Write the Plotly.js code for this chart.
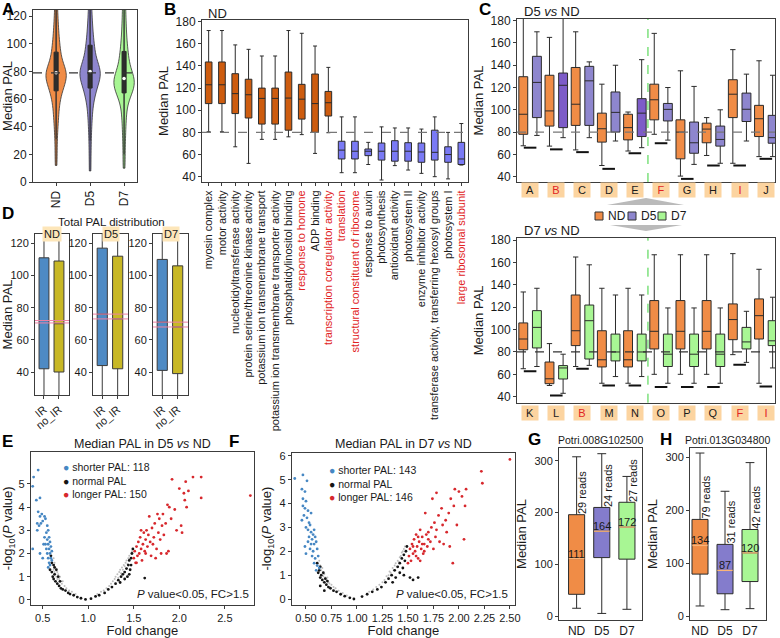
<!DOCTYPE html>
<html>
<head>
<meta charset="utf-8">
<script src="https://cdn.plot.ly/plotly-3.0.1.min.js"></script>
<style>
  body { margin: 0; background: #fff; }
  #fig { width: 780px; height: 638px; }
</style>
</head>
<body>
<div id="fig"></div>
<script>
// ---- A: violin samples ----
const violinGroups = ['ND', 'D5', 'D7']
const violinND = [12, 22, 31, 38, 43, 47, 51, 54, 57, 60, 62, 64, 66, 67, 68, 70, 71, 72, 73, 74, 75, 76, 77, 77, 78, 78, 79, 79, 80, 81, 82, 83, 84, 86, 88, 90, 92, 94, 96, 98, 101, 104, 107, 111, 115, 120, 126, 133, 142, 155]
const violinD5 = [8, 20, 30, 38, 44, 49, 53, 57, 60, 62, 64, 66, 68, 69, 70, 72, 73, 74, 75, 76, 77, 78, 79, 79, 80, 80, 81, 82, 83, 84, 85, 87, 89, 91, 93, 95, 97, 99, 102, 105, 108, 112, 116, 121, 127, 134, 142, 150, 160, 175]
const violinD7 = [10, 20, 29, 36, 42, 47, 51, 55, 58, 61, 63, 64, 65, 66, 67, 68, 69, 70, 71, 72, 72, 73, 74, 75, 75, 76, 77, 78, 79, 81, 83, 85, 87, 89, 91, 93, 96, 99, 102, 106, 110, 115, 120, 126, 133, 140, 150, 160]
const violinMedians = [79, 80, 75]
const violinMins = [12, 8, 10]

// ---- B: GO terms, box stats [low, q1, median, q3, high] ----
const goTerms = ['myosin complex', 'motor activity', 'nucleotidyltransferase activity', 'protein serine/threonine kinase activity', 'potassium ion transmembrane transport', 'potassium ion transmembrane transporter activity', 'phosphatidylinositol binding', 'response to homone', 'ADP binding', 'transcription coregulator activity', 'translation', 'structural constituent of ribosome', 'response to auxin', 'photosynthesis', 'antioxidant activity', 'photosystem II', 'enzyme inhibitor activity', 'transferase activity, transferring hexosyl groups', 'photosystem I', 'large ribosomal subunit']
const goRedTerms = ['response to homone', 'transcription coregulator activity', 'translation', 'structural constituent of ribosome', 'large ribosomal subunit']
const goLong = [
  [80.6, 106, 123, 143.6, 172], [80.6, 106, 123, 143.6, 172], [67, 97, 115, 133, 159],
  [52, 93, 114, 128, 155], [73.7, 87.5, 110.7, 120, 149], [73.7, 87.5, 110.7, 120, 149],
  [76, 82, 111, 134.5, 172], [78, 92, 110, 123.4, 169.5], [61, 80, 106, 132.7, 158],
  [79.7, 94.8, 106.8, 117, 138.7]
]
const goShort = [
  [43.6, 56, 64, 72, 94], [43.6, 56, 63, 72, 94], [51, 59, 63, 65, 71], [37, 55, 63, 70.4, 85],
  [50, 54, 63, 72.5, 84], [46, 54, 63, 70.7, 84], [43, 53, 62.3, 70.4, 83], [40, 55, 62, 82, 94],
  [38, 53, 60, 67, 80], [50.5, 51, 56, 71, 88]
]

// ---- C: D5 vs ND (top) and D7 vs ND (bottom) ----
const cTopGroups = ['A', 'B', 'C', 'D', 'E', 'F', 'G', 'H', 'I', 'J']
const cTopRed = ['B', 'F', 'I']
const cTopDarkD5 = ['B', 'E']
const cTopND = [
  [67.7, 78, 96, 129.7, 185], [67.4, 85.4, 99, 131, 165], [64, 86, 105, 138, 170], [50, 71, 83, 97, 123],
  [63, 73, 84, 96, 98], [78, 91, 109, 123, 168.6], [40.5, 56, 80, 91, 135], [59, 70.4, 82.7, 88, 93],
  [52, 93, 114, 127, 154], [58, 76, 92, 104, 144]
]
const cTopD5 = [
  [77, 93, 124.6, 148, 170], [75, 84, 122, 133, 185], [75, 86, 126, 139, 143], [72, 80, 97.7, 116, 140],
  [66, 76, 97, 110, 145], [72.8, 90, 100.4, 105.7, 120], [51, 61, 70.4, 89, 121], [52, 67.4, 73.4, 85.4, 100],
  [72, 89.5, 100.5, 115, 132], [58, 70, 75, 95, 131]
]
const cTopBar = [66, 64.5, 62, 47, 61, 70, 38, 50, 50, 56]

const cBotGroups = ['K', 'L', 'B', 'M', 'N', 'O', 'P', 'Q', 'F', 'I']
const cBotRed = ['B', 'F', 'I']
const cBotND = [
  [65, 82, 91.6, 106, 133.7], [50, 51.6, 56, 71, 87.5], [67, 85.7, 99, 131, 165], [52, 66.6, 73, 99, 137],
  [52, 66.6, 73, 99, 137], [60, 82.7, 98.5, 126, 167], [60, 82.7, 98.5, 126, 167], [60, 82.7, 98.5, 126, 167],
  [77.6, 91, 109, 123, 168], [52, 91.6, 112.5, 127.5, 154]
]
const cBotD7 = [
  [67, 83.6, 102, 117, 137], [43, 55.8, 65.7, 67.8, 78], [68, 73.7, 108, 122, 158], [58, 72, 80, 96, 131],
  [58, 72, 80, 96, 131], [52, 67, 78, 96, 119.4], [52, 67, 78, 96, 119.4], [52, 67, 78, 96, 119.4],
  [70.7, 82.7, 89, 102, 116.4], [65.7, 85.7, 90, 108, 129]
]
const cBotBar = [62.7, 41, 65, 50, 50, 48.7, 48.7, 48.7, 68.6, 49]

// ---- D: total PAL, IR vs no_IR ----
const dConds = ['ND', 'D5', 'D7']
const dIR = [[15, 42, 72, 111, 140], [15, 44, 76, 117, 140], [15, 41, 71, 110, 140]]
const dNoIR = [[15, 40, 70, 109, 140], [15, 42, 73, 112, 140], [15, 39, 68, 106, 140]]
const dPink = [[70.5, 72], [73, 76], [68, 71]]

// ---- E: D5 vs ND volcano [fold change, -log10 P] ----
const eBlue = [[0.40, 5.3], [0.45, 5.6], [0.39, 4.9], [0.43, 4.3], [0.47, 4.4], [0.45, 3.8], [0.47, 3.6], [0.49, 3.7], [0.52, 3.6], [0.50, 3.4], [0.44, 3.3], [0.46, 3.2], [0.48, 3.3], [0.53, 3.5], [0.55, 3.2], [0.56, 3.0], [0.54, 2.9], [0.44, 3.0], [0.52, 2.7], [0.55, 2.6], [0.57, 2.7], [0.53, 2.4], [0.56, 2.4], [0.58, 2.5], [0.54, 2.2], [0.57, 2.2], [0.59, 2.3], [0.55, 2.0], [0.58, 2.0], [0.60, 2.1], [0.56, 1.8], [0.59, 1.8], [0.57, 1.6], [0.60, 1.7], [0.58, 1.5], [0.47, 2.0], [0.50, 1.8], [0.39, 2.2], [0.51, 2.4], [0.56, 1.4]]
const eBlack = [[0.58, 1.3], [0.60, 1.2], [0.61, 1.0], [0.62, 0.9], [0.63, 1.1], [0.64, 0.8], [0.66, 0.7], [0.68, 0.6], [0.70, 0.5], [0.72, 0.45], [0.75, 0.4], [0.78, 0.3], [0.80, 0.25], [0.84, 0.2], [0.88, 0.12], [0.92, 0.07], [0.97, 0.02], [0.62, 1.5], [0.60, 1.6], [0.59, 1.9], [0.65, 1.3], [0.63, 1.4], [0.67, 1.0], [0.69, 0.8], [1.03, 0.05], [1.08, 0.15], [1.12, 0.2], [1.18, 0.3], [1.22, 0.45], [1.26, 0.55], [1.30, 0.7], [1.33, 0.85], [1.36, 1.0], [1.38, 1.1], [1.40, 1.2], [1.42, 1.35], [1.44, 1.5], [1.45, 1.7], [1.47, 1.8], [1.48, 2.0], [1.49, 2.2], [1.40, 0.9], [1.43, 1.0], [1.46, 1.3], [1.35, 0.75], [1.47, 1.5], [1.45, 1.1], [1.62, 0.94]]
const eGray = [[0.60, 1.7], [0.61, 1.5], [0.62, 1.3], [0.62, 1.8], [0.63, 1.2], [0.63, 1.6], [0.64, 1.1], [0.64, 1.4], [0.65, 1.0], [0.66, 1.2], [0.66, 0.9], [0.67, 1.1], [0.68, 0.9], [0.69, 1.0], [0.70, 0.8], [0.71, 0.7], [0.72, 0.8], [0.74, 0.6], [0.76, 0.5], [0.79, 0.4], [0.82, 0.35], [0.86, 0.25], [1.10, 0.25], [1.14, 0.35], [1.17, 0.4], [1.20, 0.5], [1.23, 0.6], [1.25, 0.7], [1.27, 0.8], [1.29, 0.9], [1.30, 1.0], [1.32, 1.1], [1.33, 0.95], [1.34, 1.2], [1.35, 1.3], [1.36, 1.15], [1.37, 1.4], [1.38, 1.3], [1.39, 1.5], [1.40, 1.45], [1.41, 1.6], [1.42, 1.7], [1.43, 1.55], [1.44, 1.8], [1.45, 1.9], [1.46, 1.75], [1.47, 2.0], [1.48, 2.1]]
const eRed = [[1.50, 1.8], [1.51, 2.1], [1.52, 1.6], [1.53, 2.3], [1.54, 1.9], [1.55, 2.5], [1.56, 2.0], [1.57, 2.7], [1.58, 2.2], [1.59, 1.7], [1.60, 2.4], [1.61, 2.9], [1.62, 2.1], [1.63, 2.6], [1.64, 3.0], [1.65, 2.3], [1.66, 2.8], [1.67, 3.6], [1.68, 2.5], [1.69, 1.9], [1.70, 3.1], [1.71, 2.4], [1.72, 2.7], [1.73, 3.3], [1.75, 2.2], [1.76, 3.7], [1.77, 2.9], [1.78, 3.5], [1.79, 2.6], [1.80, 2.0], [1.81, 3.2], [1.82, 3.7], [1.83, 2.8], [1.85, 3.3], [1.87, 4.1], [1.88, 2.1], [1.89, 4.0], [1.91, 3.5], [1.92, 5.2], [1.95, 3.9], [1.97, 3.0], [2.00, 4.8], [2.02, 3.2], [2.03, 2.9], [2.05, 4.6], [2.07, 5.1], [2.08, 4.0], [2.10, 4.7], [2.15, 5.3], [2.24, 5.3], [2.24, 4.4], [2.78, 4.5], [1.74, 1.8], [1.86, 2.0], [2.06, 4.3], [1.58, 3.0], [1.63, 2.0], [1.53, 1.6]]

// ---- F: D7 vs ND volcano ----
const fBlue = [[0.39, 5.05], [0.47, 5.2], [0.51, 4.95], [0.46, 4.6], [0.49, 4.5], [0.47, 4.2], [0.50, 4.1], [0.47, 3.9], [0.49, 3.8], [0.52, 3.7], [0.48, 3.5], [0.51, 3.4], [0.53, 3.2], [0.46, 3.3], [0.50, 3.0], [0.54, 3.1], [0.52, 2.9], [0.55, 2.8], [0.57, 2.7], [0.53, 2.6], [0.56, 2.5], [0.59, 2.6], [0.55, 2.3], [0.58, 2.3], [0.60, 2.4], [0.54, 2.1], [0.57, 2.0], [0.61, 2.1], [0.56, 1.8], [0.59, 1.7], [0.62, 1.8], [0.58, 1.5], [0.61, 1.4], [0.60, 1.2], [0.63, 1.3], [0.49, 2.2], [0.52, 2.4], [0.50, 1.9], [0.55, 3.6], [0.58, 2.9]]
const fBlack = [[0.62, 1.1], [0.64, 0.9], [0.65, 1.0], [0.66, 0.8], [0.68, 0.7], [0.70, 0.6], [0.72, 0.5], [0.74, 0.45], [0.77, 0.35], [0.80, 0.3], [0.84, 0.2], [0.88, 0.12], [0.93, 0.05], [0.97, 0.0], [0.63, 1.2], [0.61, 1.5], [0.64, 1.35], [0.67, 1.1], [0.69, 0.85], [0.71, 0.75], [0.64, 0.55], [0.68, 0.35], [1.05, 0.1], [1.10, 0.2], [1.15, 0.3], [1.20, 0.4], [1.24, 0.5], [1.28, 0.7], [1.31, 0.85], [1.34, 1.0], [1.37, 1.2], [1.40, 1.35], [1.42, 1.5], [1.44, 1.7], [1.46, 1.85], [1.48, 2.0], [1.49, 2.2], [1.38, 0.9], [1.42, 1.1], [1.45, 1.3], [1.47, 1.6], [1.52, 0.9], [1.55, 0.8], [1.60, 0.9], [1.35, 0.7], [1.46, 1.0]]
const fGray = [[0.63, 1.6], [0.64, 1.4], [0.65, 1.2], [0.66, 1.3], [0.67, 0.95], [0.68, 1.05], [0.69, 0.9], [0.70, 0.8], [0.71, 0.9], [0.72, 0.7], [0.73, 0.65], [0.75, 0.6], [0.77, 0.5], [0.79, 0.45], [0.82, 0.35], [0.86, 0.25], [0.90, 0.15], [1.12, 0.3], [1.16, 0.4], [1.19, 0.5], [1.22, 0.6], [1.25, 0.7], [1.27, 0.8], [1.29, 0.95], [1.31, 1.0], [1.32, 1.15], [1.33, 1.1], [1.35, 1.3], [1.36, 1.2], [1.37, 1.4], [1.38, 1.5], [1.39, 1.35], [1.40, 1.6], [1.41, 1.55], [1.42, 1.75], [1.43, 1.8], [1.44, 1.95], [1.45, 2.0], [1.46, 2.1], [1.47, 2.2]]
const fRed = [[1.50, 1.5], [1.51, 1.8], [1.52, 2.1], [1.53, 1.6], [1.54, 2.3], [1.55, 1.9], [1.56, 2.5], [1.57, 2.0], [1.58, 2.7], [1.59, 2.2], [1.60, 1.7], [1.61, 2.4], [1.62, 2.9], [1.63, 2.1], [1.64, 2.6], [1.65, 1.9], [1.66, 2.3], [1.67, 3.6], [1.68, 2.7], [1.69, 2.2], [1.70, 2.8], [1.72, 2.4], [1.73, 3.0], [1.75, 2.1], [1.76, 3.2], [1.77, 2.6], [1.78, 2.9], [1.80, 3.5], [1.81, 2.4], [1.83, 3.8], [1.84, 3.1], [1.85, 2.3], [1.87, 3.3], [1.88, 2.8], [1.90, 3.6], [1.91, 2.2], [1.92, 4.2], [1.94, 1.5], [1.95, 3.9], [1.96, 4.6], [1.98, 3.1], [2.00, 4.5], [2.03, 4.3], [2.05, 2.5], [2.07, 4.6], [2.22, 5.35], [2.23, 4.85], [2.50, 5.85], [2.06, 3.9], [1.74, 4.2], [1.78, 4.45], [1.55, 2.2], [1.58, 1.8], [1.62, 1.6], [1.66, 2.0], [1.70, 2.5], [1.60, 2.6], [1.64, 2.3]]

// ---- G / H: single genes ----
const geneConds = ['ND', 'D5', 'D7']
const gStats = [[15, 42, 111, 196, 308], [5, 113, 164, 210, 314], [13, 110, 172, 220, 270]]
const gReads = [29, 24, 27]
const hStats = [[20, 80, 134, 183, 308], [13, 43, 87, 136, 236], [15, 66, 120, 164, 290]]
const hReads = [79, 31, 42]

// ---------------------------------------------------------------
const W = 780, H = 638
const px = x => x / W
const py = y => 1 - y / H
const domX = (a, b) => [a / W, b / W]
const domY = (top, bottom) => [1 - bottom / H, 1 - top / H]
const ax = n => (n === 1 ? '' : String(n))

const ORANGE = 'rgb(240,140,70)'
const PURPLE = 'rgb(142,134,206)'
const PURPLE_DK = 'rgb(125,92,200)'
const GREEN = 'rgb(168,246,148)'
const B_ORANGE = 'rgb(205,92,15)'
const B_BLUE = 'rgb(122,122,245)'
const RED_TXT = 'rgb(225,35,35)'

const boxes = (rows, xs, fill, n, opts) => Object.assign({
  type: 'box',
  x: xs,
  lowerfence: rows.map(r => r[0]),
  q1: rows.map(r => r[1]),
  median: rows.map(r => r[2]),
  q3: rows.map(r => r[3]),
  upperfence: rows.map(r => r[4]),
  fillcolor: fill,
  line: { color: '#2b2b2b', width: 1 },
  whiskerwidth: 0.6,
  boxpoints: false,
  xaxis: 'x' + ax(n),
  yaxis: 'y' + ax(n),
  showlegend: false,
  hoverinfo: 'skip'
}, opts || {})

const segments = (centers, values, half) => {
  const x = [], y = []
  centers.forEach((c, i) => { x.push(c - half, c + half, null); y.push(values[i], values[i], null) })
  return { x, y }
}

const dots = (pts, color, size, n) => ({
  type: 'scatter', mode: 'markers',
  x: pts.map(p => p[0]), y: pts.map(p => p[1]),
  marker: { color, size },
  xaxis: 'x' + ax(n), yaxis: 'y' + ax(n),
  showlegend: false, hoverinfo: 'skip'
})

const traces = []

// A — violins
const violinSets = [violinND, violinD5, violinD7]
const violinFills = [ORANGE, PURPLE, GREEN]
violinSets.forEach((vals, i) => {
  traces.push({
    type: 'violin', x: vals.map(() => i), y: vals,
    fillcolor: violinFills[i], line: { color: '#333', width: 0.8 }, opacity: 1,
    width: 0.6, spanmode: 'hard', bandwidth: 6.5, points: false,
    box: { visible: true, width: 0.2, fillcolor: '#2a2a2a', line: { color: '#2a2a2a', width: 1 } },
    meanline: { visible: false },
    showlegend: false, hoverinfo: 'skip'
  })
})
// thin whisker from each violin's minimum up through the top
const vx = [], vy = []
violinMins.forEach((m, i) => { vx.push(i, i, null); vy.push(m, 200, null) })
traces.push({ type: 'scatter', mode: 'lines', x: vx, y: vy, line: { color: '#333', width: 0.8 }, showlegend: false, hoverinfo: 'skip' })
traces.push({
  type: 'scatter', mode: 'markers', x: [0, 1, 2], y: violinMedians,
  marker: { color: '#fff', size: 3.5 }, showlegend: false, hoverinfo: 'skip'
})

// B — GO term boxes
traces.push(boxes(goLong, goLong.map((_, i) => i), B_ORANGE, 2, { width: 0.5 }))
traces.push(boxes(goShort, goShort.map((_, i) => i + goLong.length), B_BLUE, 2, { width: 0.5 }))

// C top
const off = 0.26
const darkIdx = cTopGroups.map((g, i) => i).filter(i => cTopDarkD5.includes(cTopGroups[i]))
const lightIdx = cTopGroups.map((g, i) => i).filter(i => !cTopDarkD5.includes(cTopGroups[i]))
traces.push(boxes(cTopND, cTopND.map((_, i) => i - off), ORANGE, 3, { width: 0.34 }))
traces.push(boxes(lightIdx.map(i => cTopD5[i]), lightIdx.map(i => i + off), PURPLE, 3, { width: 0.34 }))
traces.push(boxes(darkIdx.map(i => cTopD5[i]), darkIdx.map(i => i + off), PURPLE_DK, 3, { width: 0.34 }))
const topBars = segments(cTopBar.map((_, i) => i), cTopBar, 0.24)
traces.push({ type: 'scatter', mode: 'lines', x: topBars.x, y: topBars.y, line: { color: '#111', width: 2 }, xaxis: 'x3', yaxis: 'y3', showlegend: false, hoverinfo: 'skip' })

// C bottom
traces.push(boxes(cBotND, cBotND.map((_, i) => i - off), ORANGE, 4, { width: 0.34 }))
traces.push(boxes(cBotD7, cBotD7.map((_, i) => i + off), GREEN, 4, { width: 0.34 }))
const botBars = segments(cBotBar.map((_, i) => i), cBotBar, 0.24)
traces.push({ type: 'scatter', mode: 'lines', x: botBars.x, y: botBars.y, line: { color: '#111', width: 2 }, xaxis: 'x4', yaxis: 'y4', showlegend: false, hoverinfo: 'skip' })

// D
dConds.forEach((c, k) => {
  traces.push(boxes([dIR[k]], [0], 'rgb(78,138,196)', 5 + k, { width: 0.66, line: { color: '#3a3a3a', width: 1 } }))
  traces.push(boxes([dNoIR[k]], [1], 'rgb(200,184,38)', 5 + k, { width: 0.66, line: { color: '#3a3a3a', width: 1 } }))
})

// E / F volcano
;[[eGray, eBlack, eBlue, eRed, 8], [fGray, fBlack, fBlue, fRed, 9]].forEach(([g, k, b, r, n]) => {
  traces.push(dots(g, 'rgb(190,190,190)', 2, n))
  traces.push(dots(k, '#151515', 2.8, n))
  traces.push(dots(b, 'rgb(70,135,195)', 2.8, n))
  traces.push(dots(r, 'rgb(215,40,45)', 2.8, n))
})

// G / H
const geneFills = [ORANGE, 'rgb(132,124,204)', GREEN]
;[[gStats, 10], [hStats, 11]].forEach(([stats, n]) => {
  stats.forEach((row, i) => traces.push(boxes([row], [i], geneFills[i], n, { width: 0.64, whiskerwidth: 0.55 })))
  const med = segments([0, 1, 2], stats.map(r => r[2]), 0.31)
  traces.push({ type: 'scatter', mode: 'lines', x: med.x, y: med.y, line: { color: 'rgb(250,180,120)', width: 1.3 }, xaxis: 'x' + n, yaxis: 'y' + n, showlegend: false, hoverinfo: 'skip' })
})

// ---------------------------------------------------------------
const base = {
  showline: true, linecolor: '#3c3c3c', linewidth: 1, mirror: true,
  ticks: 'outside', ticklen: 3, tickcolor: '#3c3c3c',
  zeroline: false, showgrid: false, fixedrange: true,
  tickfont: { size: 12, color: '#1a1a1a' }
}
const ytitle = t => ({ text: t, font: { size: 13 }, standoff: 4 })
const fcTitle = { text: 'Fold change', font: { size: 13 }, standoff: 10 }

const layout = {
  width: W, height: H,
  margin: { l: 0, r: 0, t: 0, b: 0 },
  paper_bgcolor: '#fff', plot_bgcolor: '#fff',
  font: { family: 'Liberation Sans, Arial, sans-serif', size: 11, color: '#1a1a1a' },
  showlegend: false,
  // A
  xaxis: Object.assign({}, base, { domain: domX(33, 137), anchor: 'y', range: [-0.68, 2.38], tickvals: [0, 1, 2], ticktext: violinGroups, tickangle: -90 }),
  yaxis: Object.assign({}, base, { domain: domY(10, 182), anchor: 'x', range: [0, 124.5], dtick: 20, title: ytitle('Median PAL') }),
  // B
  xaxis2: Object.assign({}, base, {
    domain: domX(202, 468), anchor: 'y2', range: [-0.5, 19.5],
    tickvals: goTerms.map((_, i) => i),
    ticktext: goTerms.map(t => goRedTerms.includes(t) ? '<span style="color:' + RED_TXT + '">' + t + '</span>' : t),
    tickangle: -90, tickfont: { size: 11, color: '#1a1a1a' }
  }),
  yaxis2: Object.assign({}, base, { domain: domY(20, 182), anchor: 'x2', range: [35.2, 181.5], dtick: 20, title: ytitle('Median PAL') }),
  // C top / bottom
  xaxis3: Object.assign({}, base, { domain: domX(517, 775), anchor: 'y3', range: [-0.5, 9.35], showticklabels: false, ticks: '' }),
  yaxis3: Object.assign({}, base, { domain: domY(19, 182), anchor: 'x3', range: [35.2, 181.5], dtick: 20, title: ytitle('Median PAL') }),
  xaxis4: Object.assign({}, base, { domain: domX(517, 775), anchor: 'y4', range: [-0.5, 9.35], showticklabels: false, ticks: '' }),
  yaxis4: Object.assign({}, base, { domain: domY(238, 402.7), anchor: 'x4', range: [34.6, 182], dtick: 20, title: ytitle('Median PAL') }),
  // E
  xaxis8: Object.assign({}, base, { domain: domX(30.7, 254), anchor: 'y8', range: [0.368, 2.82], tickvals: [0.5, 1, 1.5, 2, 2.5], tickformat: '.1f', tickfont: { size: 11 }, title: fcTitle }),
  yaxis8: Object.assign({}, base, { domain: domY(452, 604.5), anchor: 'x8', range: [-0.2, 6.38], tickvals: [0, 1, 2, 3, 4, 5], tickfont: { size: 11 }, title: ytitle('-log<sub>10</sub>(<i>P</i> value)') }),
  // F
  xaxis9: Object.assign({}, base, { domain: domX(291.7, 515), anchor: 'y9', range: [0.36, 2.55], tick0: 0.5, dtick: 0.25, tickformat: '.2f', tickfont: { size: 11 }, title: fcTitle }),
  yaxis9: Object.assign({}, base, { domain: domY(452.7, 604.5), anchor: 'x9', range: [-0.23, 6.13], dtick: 1, tickfont: { size: 11 }, title: ytitle('-log<sub>10</sub>(<i>P</i> value)') }),
  // G / H
  xaxis10: Object.assign({}, base, { domain: domX(559, 642), anchor: 'y10', range: [-0.7, 2.6], tickvals: [0, 1, 2], ticktext: geneConds, ticks: '' }),
  yaxis10: Object.assign({}, base, { domain: domY(448, 620), anchor: 'x10', range: [-7.7, 325], tickvals: [0, 100, 200, 300], tickfont: { size: 11 }, title: ytitle('Median PAL') }),
  xaxis11: Object.assign({}, base, { domain: domX(690, 766), anchor: 'y11', range: [-0.4, 2.64], tickvals: [0, 1, 2], ticktext: geneConds, ticks: '' }),
  yaxis11: Object.assign({}, base, { domain: domY(448, 620), anchor: 'x11', range: [-6.4, 317.5], tickvals: [0, 100, 200, 300], tickfont: { size: 11 }, title: ytitle('Median PAL') }),
  shapes: [],
  annotations: []
}

// D axes
const dDomains = [[35, 69], [93, 128], [153, 188]]
dConds.forEach((c, k) => {
  const n = 5 + k
  layout['xaxis' + n] = Object.assign({}, base, { domain: domX(dDomains[k][0], dDomains[k][1]), anchor: 'y' + n, range: [-0.6, 1.67], tickvals: [0, 1], ticktext: ['IR', 'no_IR'], tickangle: -40, tickfont: { size: 11 } })
  layout['yaxis' + n] = Object.assign({}, base, { domain: domY(234, 395), anchor: 'x' + n, range: [25.7, 125.8], tickvals: [40, 60, 80, 100, 120], tickfont: { size: 11 } })
  if (k === 0) layout['yaxis' + n].title = ytitle('Median PAL')
  dPink[k].forEach(v => layout.shapes.push({ type: 'line', xref: 'x' + n + ' domain', x0: 0, x1: 1, yref: 'y' + n, y0: v, y1: v, line: { color: 'rgb(238,130,165)', width: 1 }, layer: 'above' }))
  layout.annotations.push({ text: c, xref: 'x' + n + ' domain', x: 0.5, yref: 'y' + n + ' domain', y: 1, xanchor: 'center', yanchor: 'middle', showarrow: false, bgcolor: 'rgb(253,230,185)', font: { size: 11 }, borderpad: 1 })
})

// reference lines
const hline = (n, v, color, dash) => ({ type: 'line', xref: 'x' + ax(n) + ' domain', x0: 0, x1: 1, yref: 'y' + ax(n), y0: v, y1: v, line: { color, width: 1.3, dash }, layer: 'above' })
layout.shapes.push(hline(1, 79, '#333', 'dash'))
layout.shapes.push(hline(2, 80, '#777', 'dash'))
layout.shapes.push(hline(3, 80, '#777', 'dash'))
layout.shapes.push(hline(4, 80, '#333', 'dash'))
;[3, 4].forEach(n => layout.shapes.push({ type: 'line', xref: 'x' + n, x0: 4.5, x1: 4.5, yref: 'y' + n + ' domain', y0: 0, y1: 1, line: { color: 'rgb(60,210,60)', width: 1, dash: 'dash' } }))

// grey wedges between the C panels
const tri = pts => 'M ' + pts.map(p => px(p[0]) + ' ' + py(p[1])).join(' L ') + ' Z'
layout.shapes.push({ type: 'path', xref: 'paper', yref: 'paper', path: tri([[607, 205], [646, 198], [684, 205]]), fillcolor: 'rgba(140,140,140,0.6)', line: { width: 0 } })
layout.shapes.push({ type: 'path', xref: 'paper', yref: 'paper', path: tri([[610, 225], [646, 231], [682, 225]]), fillcolor: 'rgba(140,140,140,0.6)', line: { width: 0 } })

const note = (text, x, y, o) => Object.assign({ text, xref: 'paper', yref: 'paper', x: px(x), y: py(y), xanchor: 'center', yanchor: 'middle', showarrow: false, font: { size: 13 } }, o || {})

// C legend
const cLegend = [['ND', ORANGE, 595], ['D5', PURPLE, 628], ['D7', GREEN, 658]]
cLegend.forEach(([label, fill, x]) => {
  layout.shapes.push({ type: 'rect', xref: 'paper', yref: 'paper', x0: px(x), x1: px(x + 8), y0: py(220), y1: py(212), fillcolor: fill, line: { color: '#333', width: 1 } })
  layout.annotations.push(note(label, x + 11, 216, { xanchor: 'left', font: { size: 12 } }))
})

// C letter tags
const tags = (groups, reds, n, y) => groups.forEach((g, i) => layout.annotations.push({
  text: g, xref: 'x' + n, x: i, yref: 'paper', y: py(y), xanchor: 'center', yanchor: 'middle', showarrow: false,
  bgcolor: 'rgb(252,212,160)', width: 14, height: 12,
  font: { size: 11, color: reds.includes(g) ? RED_TXT : '#1a1a1a' }
}))
tags(cTopGroups, cTopRed, 3, 190)
tags(cBotGroups, cBotRed, 4, 413)

// panel letters and titles
;[['A', 1, 10], ['B', 163, 10], ['C', 478, 10], ['D', 1, 214], ['E', 1, 442], ['F', 228, 442], ['G', 527, 439], ['H', 659, 439]].forEach(([t, x, y]) => {
  layout.annotations.push(note('<b>' + t + '</b>', x, y, { xanchor: 'left', font: { size: 17, color: '#000' }, borderpad: 0 }))
})
layout.annotations.push(note('ND', 206, 13, { xanchor: 'left' }))
layout.annotations.push(note('D5 <i>vs</i> ND', 522, 12, { xanchor: 'left' }))
layout.annotations.push(note('D7 <i>vs</i> ND', 522, 231, { xanchor: 'left' }))
layout.annotations.push(note('Total PAL distribution', 112, 222, { font: { size: 11.5 } }))
layout.annotations.push(note('Median PAL in D5 <i>vs</i> ND', 142, 444, { font: { size: 12.5 } }))
layout.annotations.push(note('Median PAL in D7 <i>vs</i> ND', 403, 444, { font: { size: 12.5 } }))
layout.annotations.push(note('Potri.008G102500', 600, 440, { font: { size: 10.5 } }))
layout.annotations.push(note('Potri.013G034800', 727, 440, { font: { size: 10.5 } }))

// E / F legends (one block of three lines each) and threshold note
const volcanoLegend = (x, top, counts) => {
  const rows = [['rgb(70,135,195)', 'shorter PAL: ' + counts[0]], ['#151515', 'normal PAL'], ['rgb(215,40,45)', 'longer PAL: ' + counts[1]]]
  const text = rows.map(([c, t]) => '<span style="color:' + c + '">●</span> ' + t).join('<br>')
  layout.annotations.push(note(text, x, top, { xanchor: 'left', yanchor: 'top', align: 'left', borderpad: 0, font: { size: 10.5 } }))
}
volcanoLegend(62, 460, [118, 150])
volcanoLegend(328, 463, [143, 146])
layout.annotations.push(note('<i>P</i> value&lt;0.05, FC&gt;1.5', 251, 594, { xanchor: 'right', font: { size: 11.5 } }))
layout.annotations.push(note('<i>P</i> value&lt;0.05, FC&gt;1.5', 510, 594, { xanchor: 'right', font: { size: 11.5 } }))

// G / H medians and read counts
;[[gStats, gReads, 10, 0.22], [hStats, hReads, 11, 0.26]].forEach(([stats, reads, n, dx]) => {
  stats.forEach((row, i) => {
    layout.annotations.push({ text: String(row[2]), xref: 'x' + n, yref: 'y' + n, x: i, y: row[2], xanchor: 'center', yanchor: 'bottom', yshift: -3, showarrow: false, font: { size: 11, color: '#1a1a1a' } })
    layout.annotations.push({ text: reads[i] + ' reads', xref: 'x' + n, yref: 'y' + n, x: i + dx, y: row[3] + 42, xanchor: 'center', yanchor: 'middle', textangle: -90, showarrow: false, font: { size: 11, color: '#1a1a1a' } })
  })
})

Plotly.newPlot('fig', traces, layout, { staticPlot: true, displayModeBar: false })
</script>
</body>
</html>
